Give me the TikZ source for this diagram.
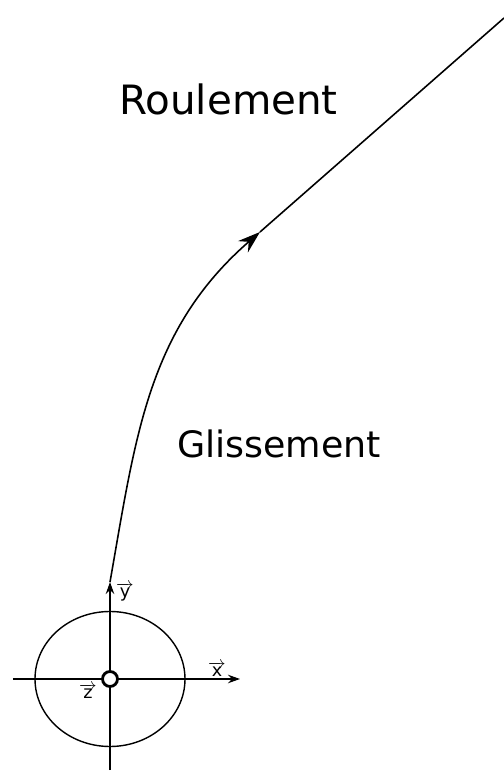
\documentclass[tikz,border=0pt]{standalone}
\usepackage{fontspec}
\setmainfont{DejaVu Sans}
\usetikzlibrary{arrows.meta}

\begin{document}
\begin{tikzpicture}[
  axe/.style={line width=0.7pt,-{Stealth[length=2.4mm,width=1.7mm]}},
  traj/.style={line width=0.9pt},
  vecl/.style={font=\fontsize{10}{12}\selectfont,inner sep=0pt},
  zone/.style={anchor=base,inner sep=0pt}]
  \useasboundingbox (0,0) rectangle (10.08,15.44);
  \coordinate (O) at (2.2,1.86);
  \coordinate (xg) at (0.26,1.86);
  \coordinate (xd) at (4.8,1.86);
  \coordinate (yb) at (2.2,0.04);
  \coordinate (yh) at (2.2,3.8);
  \coordinate (J) at (5.2,10.8);
  \coordinate (fin) at (10.08,15.08);
  \draw[line width=0.8pt] (O) ellipse[x radius=1.5,y radius=1.35];
  \draw[axe] (xg) -- (xd);
  \draw[axe] (yb) -- (yh);
  \draw[line width=1.6pt,fill=white] (O) circle[radius=0.15];
  \draw[traj,-{Stealth[length=4.5mm,width=3mm,inset=1.5mm]}] (yh) to[out=80,in=221] (J);
  \draw[traj] (J) -- (fin);
  \node[vecl] (ly) at (2.5,3.6) {$\overrightarrow{\mbox{y}}$};
  \node[vecl] (lx) at (4.34,2.06) {$\overrightarrow{\mbox{x}}$};
  \node[vecl] (lz) at (1.76,1.62) {$\overrightarrow{\mbox{z}}$};
  \node[zone,font=\fontsize{23}{27}\selectfont] (roul) at (4.57,13.14) {Roulement};
  \node[zone,font=\fontsize{20.7}{24}\selectfont] (gliss) at (5.58,6.28) {Glissement};
\end{tikzpicture}
\end{document}
